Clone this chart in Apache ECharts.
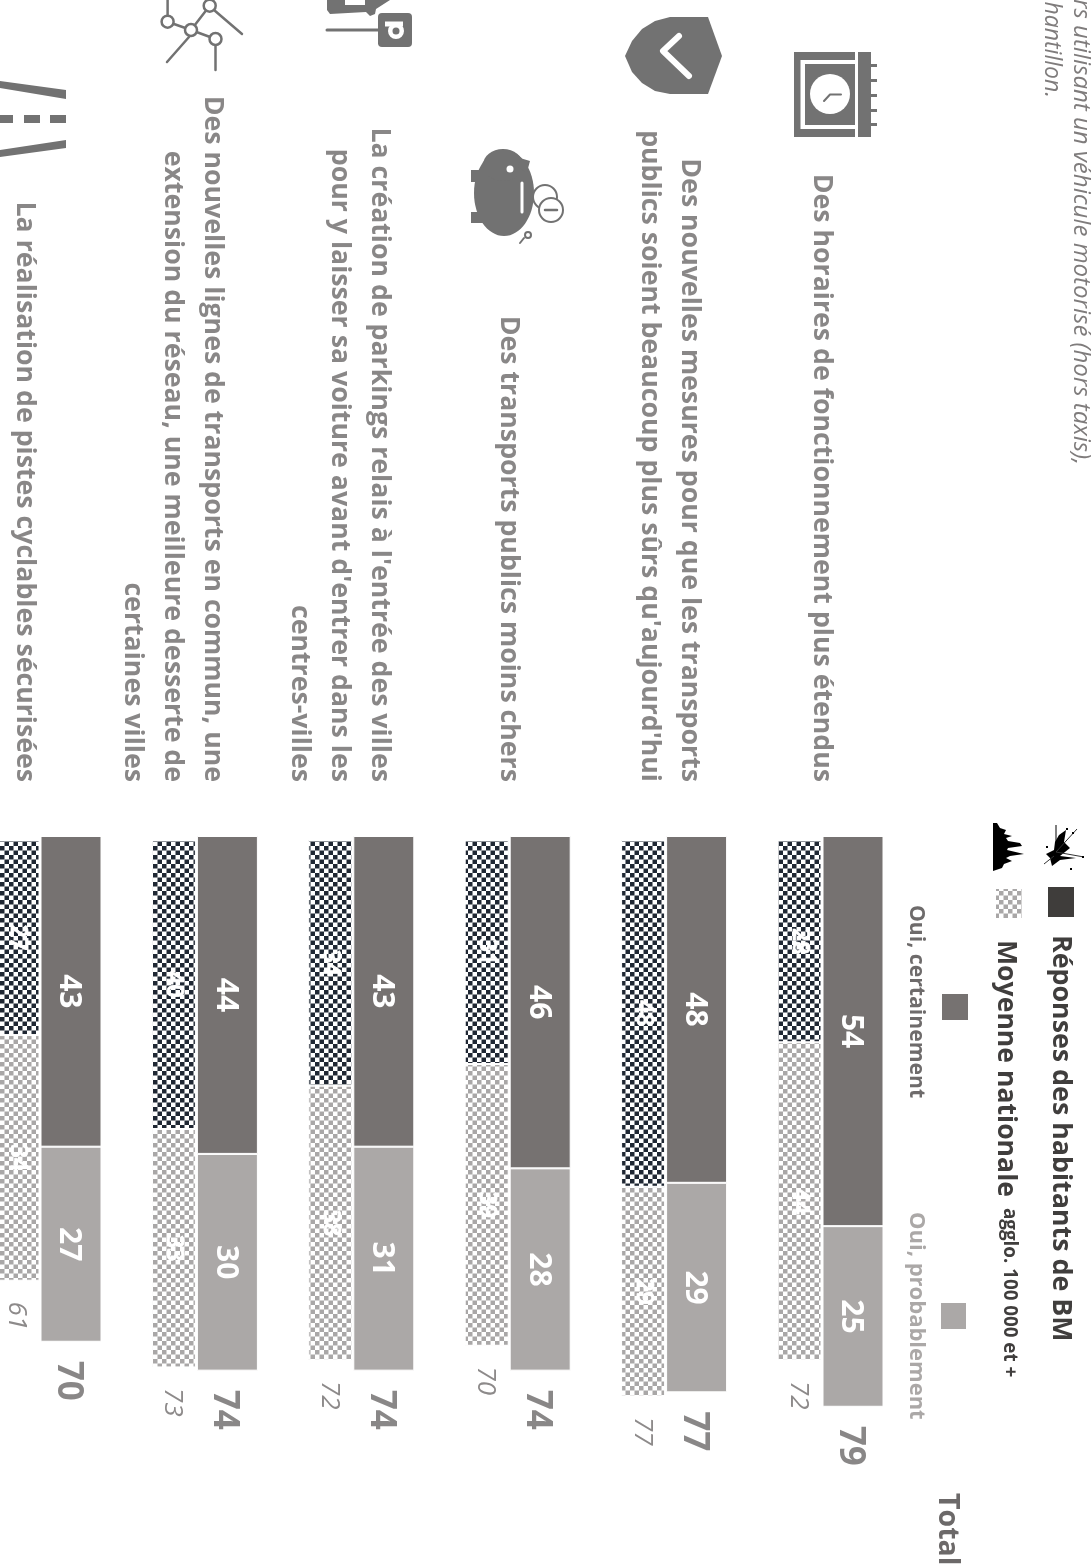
<!DOCTYPE html>
<html lang="fr"><head><meta charset="utf-8"><title>Transports</title>
<style>html,body{margin:0;padding:0;background:#fff}#c{width:1091px;height:1568px}</style>
<script src="https://cdn.jsdelivr.net/npm/echarts@6/dist/echarts.min.js"></script>
</head><body><div id="c"></div>
<script>
const categories = [
 "Des horaires de fonctionnement plus étendus",
 "Des nouvelles mesures pour que les transports\npublics soient beaucoup plus sûrs qu'aujourd'hui",
 "Des transports publics moins chers",
 "La création de parkings relais à l'entrée des villes\npour y laisser sa voiture avant d'entrer dans les\ncentres-villes",
 "Des nouvelles lignes de transports en commun, une\nextension du réseau, une meilleure desserte de\ncertaines villes",
 "La réalisation de pistes cyclables sécurisées"
];
const bmCertain  = [54,48,46,43,44,43];
const bmProbable = [25,29,28,31,30,27];
const bmTotal    = [79,77,74,74,74,70];
const natCertain  = [28,48,31,34,40,27];
const natProbable = [44,29,39,38,33,34];
const natTotal    = [72,77,70,72,73,61];
const labelShift = [31,27,32,44,55,46];

const FONT = '"Open Sans", sans-serif';
const GREY='#6c6969', DARK='#767271', LIGHT='#aba8a7', INK='#403e3d', ICON='#727272';

function checker(fg){
  const c=document.createElement('canvas');c.width=9;c.height=9;
  const g=c.getContext('2d');g.fillStyle='#fff';g.fillRect(0,0,9,9);
  g.fillStyle=fg;g.fillRect(0,0,4.5,4.5);g.fillRect(4.5,4.5,4.5,4.5);return c;
}
const patDark={image:checker('#1f2733'),repeat:'repeat'};
const patLight={image:checker('#a9a7a7'),repeat:'repeat'};

function vtext(text,x,y,size,fill,opt){opt=opt||{};return {type:'text',x:x,y:y,rotation:-Math.PI/2,silent:true,
  style:{text:text,fill:fill,align:opt.align||'left',verticalAlign:'middle',
  font:(opt.italic?'italic ':'')+(opt.weight||'bold')+' '+size+'px '+FONT}};}
function rect(x,y,w,h,fill,r){return {type:'rect',silent:true,shape:{x:x,y:y,width:w,height:h,r:r||0},style:{fill:fill}};}
function poly(pts,fill){return {type:'polygon',silent:true,shape:{points:pts},style:{fill:fill}};}
function line(pts,w,col,cap){return {type:'polyline',silent:true,shape:{points:pts},style:{stroke:col||ICON,lineWidth:w,fill:null,lineCap:cap||'round',lineJoin:'round'}};}
function circ(cx,cy,r,fill,stroke,w){return {type:'circle',silent:true,shape:{cx:cx,cy:cy,r:r},style:{fill:fill,stroke:stroke||null,lineWidth:w||0}};}
function ell(cx,cy,rx,ry,fill){return {type:'ellipse',silent:true,shape:{cx:cx,cy:cy,rx:rx,ry:ry},style:{fill:fill}};}

const graphics=[
 vtext('rs utilisant un véhicule motorisé (hors taxis),',1081,465,24,'#7f7c7c',{align:'right',italic:true,weight:'normal'}),
 vtext('hantillon.',1052,98,23,'#7f7c7c',{align:'right',italic:true,weight:'normal'}),
 // legend
 rect(1048,887,26,30,'#3f3d3b'),
 vtext('Réponses des habitants de BM',1061,935,26.8,INK),
 {type:'rect',silent:true,shape:{x:996,y:889,width:26,height:29},style:{fill:{image:checker('#a9a7a7'),repeat:'repeat'}}},
 vtext('Moyenne nationale',1006,940,26.6,INK),
 vtext('agglo. 100 000 et +',1009,1208,18.8,INK),
 vtext('Oui, certainement',916,905,21.2,'#6e6b6b'),
 rect(942,994,26,26,DARK),
 vtext('Oui, probablement',916,1212,22,LIGHT),
 rect(941,1303,25,26,LIGHT),
 vtext('Total',947,1493,28.5,GREY),
 // noisy legend marks
 poly([[993,823],[997,823],[1000,828],[1006,830],[1004,834],[1012,836],[1006,838],[1008,841],[1020,843],[1022,846],[1008,848],[1007,850],[1024,854],[1010,856],[1006,858],[1012,861],[1004,864],[1002,868],[993,871]],'#000'),
 line([[1056,825],[1056,852]],1.5,'#555','butt'),
 poly([[1059,835],[1066,830],[1064,842],[1070,848],[1060,856],[1076,858],[1060,860],[1052,866],[1050,858],[1046,854],[1054,850],[1055,842]],'#000'),
 line([[1056,852],[1084,857]],1,'#333','butt'),line([[1056,852],[1077,829]],1,'#333','butt'),line([[1054,856],[1044,864]],1,'#333','butt'),
 rect(1082,856,2,2,'#000'),rect(1070,868,2,2,'#000'),rect(1046,846,2,2,'#000'),rect(1066,828,2,2,'#000'),rect(1072,832,2,2,'#000'),
 // clock
 rect(794,52,61,85,ICON),rect(858,52,13,85,ICON),
 rect(800.5,60,54.5,69,'#fff'),rect(805,64,50,61,ICON),
 rect(871,64,6,3,ICON),rect(871,79,6,3,ICON),rect(871,94,6,3,ICON),rect(871,109,6,3,ICON),rect(871,123,6,3,ICON),
 circ(830,94,20,'#fff'),line([[841,94.5],[830,94.5],[824,101]],2),
 // shield
 poly([[708,17],[722,56],[708,94],[670,94],[655,91],[642,83],[632,72],[625,56],[632,41],[642,29],[655,21],[670,17]],ICON),
 line([[679,36],[663,51],[689,76]],6,'#fff'),
 // piggy
 ell(504,193,30,43,ICON),ell(503,165,20,16,ICON),rect(471,170,14,12,ICON),rect(471,212,14,11,ICON),
 poly([[520,158],[530,161],[527,172],[518,168]],ICON),
 circ(510,169,3.5,'#fff'),line([[522,183],[522,212]],3,'#fff'),
 circ(545,197,12,'#fff',ICON,2),circ(551,210,12,'#fff',ICON,2),line([[545,210],[557,210]],2.5),
 circ(528,235,3,'#fff',ICON,2),line([[524,238],[520,243]],2),
 // parking
 poly([[327,0],[327,10],[330,14],[366,12],[370,16],[375,14],[376,9],[390,0]],ICON),
 rect(345,0,20,5,'#fff'),
 rect(378,13,34,34,ICON,4),line([[327,30],[378,30]],3),
 line([[385,24],[403,24]],5,'#fff','butt'),
 {type:'ring',silent:true,shape:{cx:396,cy:31,r:8,r0:3.5},style:{fill:'#fff'}},
 rect(378,24,7,20,ICON),
 // network
 line([[167.6,0],[167.6,15]],2.5),line([[191,30],[209.7,5.7]],2.5),line([[167.6,21.7],[191,30]],2.5),line([[191,30],[215.5,39]],2.5),
 line([[215.5,46],[215.5,70]],2.5),line([[189,37],[167,62]],2.5),line([[214,10],[242,34]],2.5),
 circ(167.6,21.7,6,'#fff',ICON,2.5),circ(191,30,6,'#fff',ICON,2.5),circ(215.5,39,6,'#fff',ICON,2.5),circ(209.7,5.7,6,'#fff',ICON,2.5),
 // road
 poly([[66,90],[66,99],[0,88],[0,81]],ICON),poly([[66,140],[66,148],[0,157],[0,150]],ICON),
 rect(50,115,16,8,ICON),rect(24,115,16,8,ICON),rect(0,115,13,8,ICON)
];

function valueLabel(size,weight,halo,off){return {show:true,position:'inside',rotate:-90,align:'center',verticalAlign:'middle',offset:[0,off],
  color:'#fff',fontFamily:FONT,fontSize:size,fontWeight:weight,textBorderColor:halo?'#fff':'transparent',textBorderWidth:halo?0.8:0};}
function totalSeries(data,axis,size,weight,style,color,off,side){return {type:'scatter',xAxisIndex:axis,yAxisIndex:axis,data:data,symbolSize:1,
  itemStyle:{color:'transparent'},silent:true,z:5,
  label:{show:true,position:'inside',rotate:-90,align:'center',verticalAlign:'middle',offset:[off,side],color:color,
   fontFamily:FONT,fontSize:size,fontWeight:weight,fontStyle:style}};}
function bar(data,axis,color,stack,w,lab){return {type:'bar',xAxisIndex:axis,yAxisIndex:axis,stack:stack,data:data,barWidth:w,
  itemStyle:{color:color,borderColor:'#fff',borderWidth:1},label:lab,silent:true};}

const yAxisBase={type:'value',inverse:true,min:0,max:100,show:false};
const gridBase={top:0,width:938.4,height:722.5,outerBoundsMode:'none',containLabel:false};
const option={
 animation:false,backgroundColor:'#fff',
 grid:[Object.assign({},gridBase,{left:-7.2,top:836}),Object.assign({},gridBase,{left:-60.7,top:840})],
 xAxis:[
  {gridIndex:0,type:'category',inverse:true,position:'top',data:categories,axisLine:{show:false},axisTick:{show:false},axisLabel:{show:false}},
  {gridIndex:1,type:'category',inverse:true,position:'top',data:categories,axisLine:{show:false},axisTick:{show:false},axisLabel:{show:false}}
 ],
 yAxis:[Object.assign({gridIndex:0},yAxisBase),Object.assign({gridIndex:1},yAxisBase)],
 series:[
  bar(bmCertain,0,DARK,'bm',61,valueLabel(30,'bold',false,2)),
  bar(bmProbable,0,LIGHT,'bm',61,valueLabel(30,'bold',false,2)),
  totalSeries(bmTotal,0,35,'bold','normal',GREY,39,3),
  bar(natCertain,1,patDark,'nat',44,valueLabel(23,'600',true,0)),
  bar(natProbable,1,patLight,'nat',44,valueLabel(23,'600',true,0)),
  totalSeries(natTotal,1,26,'normal','italic','#706d6d',35,1),
  {type:'scatter',xAxisIndex:0,yAxisIndex:0,symbolSize:1,itemStyle:{color:'transparent'},silent:true,
   data:categories.map((c,i)=>({value:0,label:{offset:[-54,labelShift[i]],formatter:c}})),
   label:{show:true,position:'inside',rotate:-90,align:'right',verticalAlign:'middle',fontFamily:FONT,fontWeight:'bold',fontSize:26.7,lineHeight:40,color:GREY}}
 ],
 graphic:{elements:graphics}
};
echarts.init(document.getElementById('c'),null,{renderer:'canvas'}).setOption(option);
</script></body></html>
